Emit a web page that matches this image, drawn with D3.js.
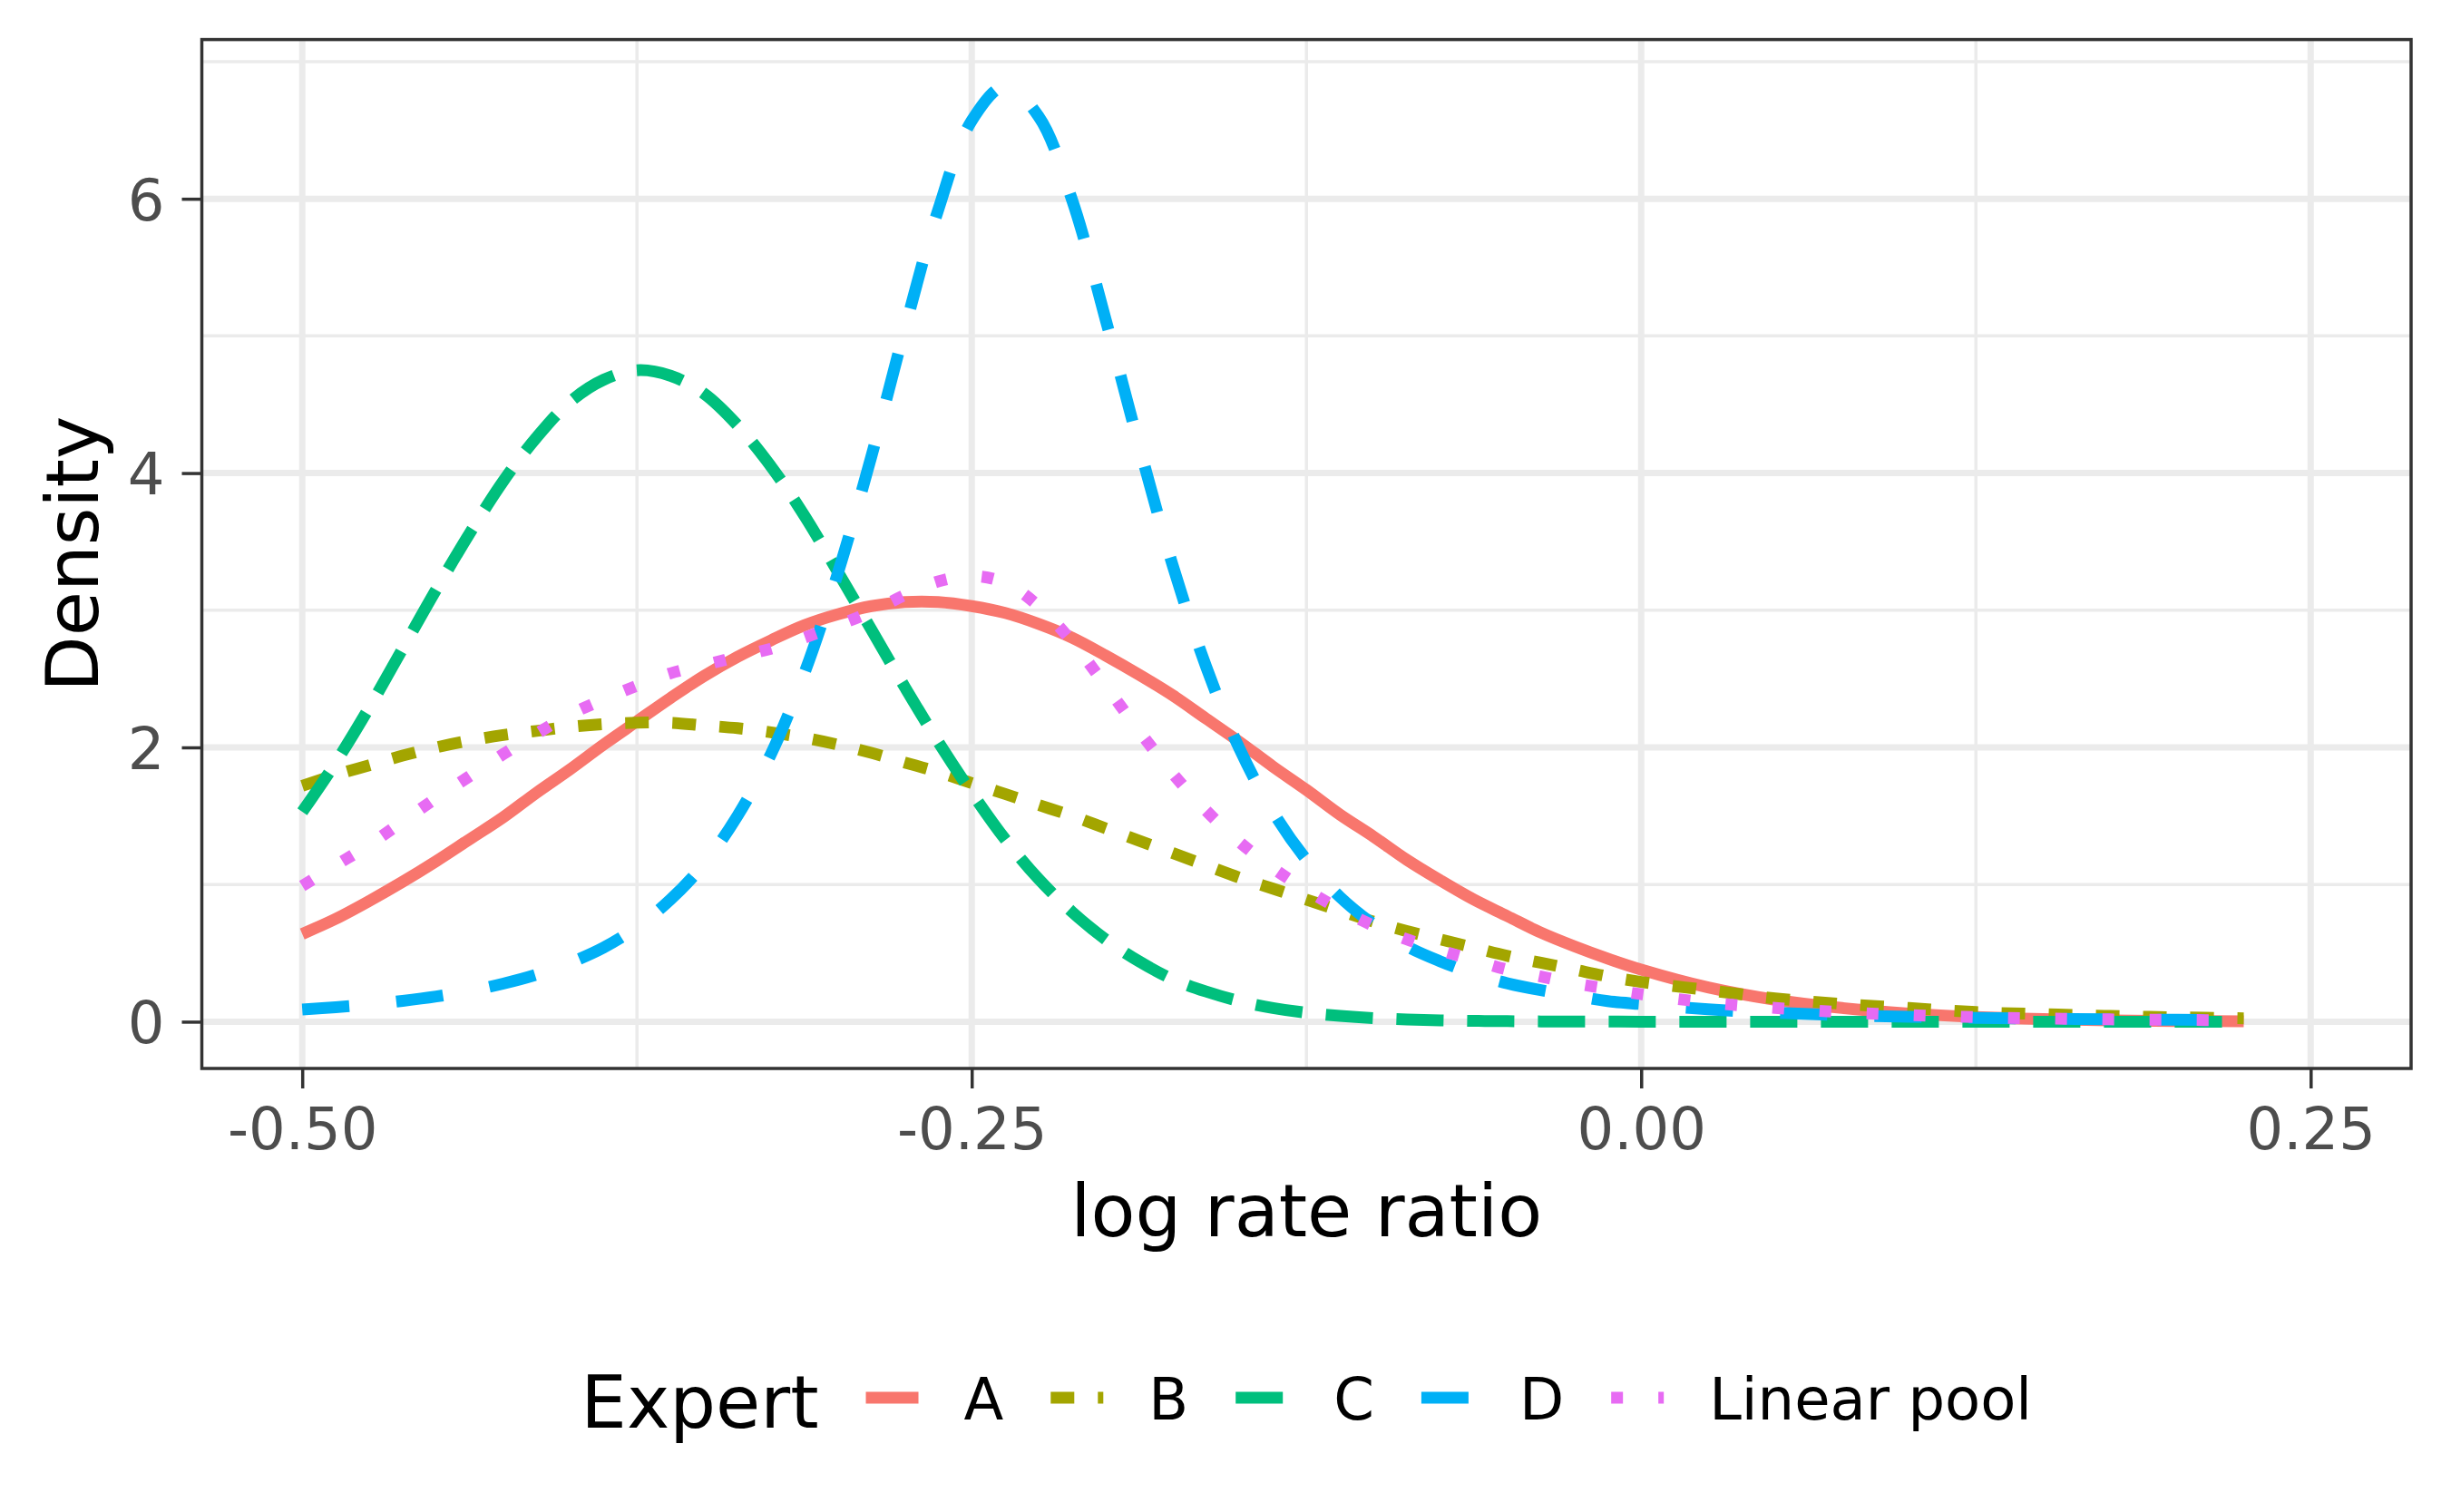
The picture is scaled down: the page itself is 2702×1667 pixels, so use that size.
<!DOCTYPE html>
<html>
<head>
<meta charset="utf-8">
<script src="https://cdn.jsdelivr.net/npm/d3@7"></script>
<style>
  body { margin: 0; background: #ffffff; }
  text { font-family: "DejaVu Sans", sans-serif; }
</style>
</head>
<body>
<svg id="svgchart"></svg>
<script>
'use strict'

// log rate ratio grid
const xValues = [
  -0.5, -0.4875, -0.475, -0.4625, -0.45, -0.4375, -0.425, -0.4125, -0.4, -0.3875,
  -0.375, -0.3625, -0.35, -0.3375, -0.325, -0.3125, -0.3, -0.2875, -0.275, -0.2625,
  -0.25, -0.2375, -0.225, -0.2125, -0.2, -0.1875, -0.175, -0.1625, -0.15, -0.1375,
  -0.125, -0.1125, -0.1, -0.0875, -0.075, -0.0625, -0.05, -0.0375, -0.025, -0.0125,
  0, 0.025, 0.05, 0.075, 0.1, 0.125, 0.15, 0.175, 0.2, 0.225
]

// densities per expert
const expertA = [
  0.64, 0.75, 0.88, 1.02, 1.17, 1.33, 1.49, 1.67, 1.84, 2.02,
  2.19, 2.36, 2.52, 2.66, 2.78, 2.89, 2.97, 3.03, 3.06, 3.06,
  3.03, 2.98, 2.90, 2.80, 2.67, 2.53, 2.38, 2.21, 2.04, 1.86,
  1.69, 1.51, 1.35, 1.18, 1.03, 0.89, 0.77, 0.65, 0.55, 0.46,
  0.38, 0.25, 0.16, 0.10, 0.06, 0.034, 0.019, 0.010, 0.005, 0.003
]
const expertB = [
  1.72, 1.80, 1.87, 1.94, 2.00, 2.05, 2.09, 2.12, 2.15, 2.17,
  2.18, 2.18, 2.16, 2.14, 2.11, 2.07, 2.02, 1.96, 1.89, 1.82,
  1.74, 1.66, 1.58, 1.50, 1.41, 1.32, 1.23, 1.14, 1.05, 0.97,
  0.89, 0.81, 0.73, 0.66, 0.60, 0.54, 0.48, 0.43, 0.38, 0.33,
  0.29, 0.23, 0.17, 0.13, 0.10, 0.07, 0.055, 0.042, 0.032, 0.025
]
const expertC = [
  1.53, 1.89, 2.29, 2.72, 3.15, 3.56, 3.94, 4.26, 4.52, 4.68,
  4.75, 4.71, 4.58, 4.35, 4.05, 3.69, 3.28, 2.86, 2.44, 2.04,
  1.67, 1.33, 1.04, 0.80, 0.60, 0.44, 0.31, 0.22, 0.15, 0.10,
  0.065, 0.042, 0.026, 0.016, 0.010, 0.006, 0.004, 0.002, 0.001, 0.001,
  0, 0, 0, 0, 0, 0, 0, 0, 0, 0
]
const expertD = [
  0.089, 0.106, 0.126, 0.152, 0.184, 0.225, 0.277, 0.343, 0.43, 0.54,
  0.69, 0.89, 1.15, 1.50, 1.95, 2.54, 3.27, 4.12, 5.05, 5.92,
  6.57, 6.82, 6.60, 5.99, 5.12, 4.20, 3.33, 2.59, 1.99, 1.53,
  1.18, 0.91, 0.71, 0.55, 0.44, 0.35, 0.28, 0.23, 0.19, 0.15,
  0.128, 0.090, 0.065, 0.048, 0.036, 0.028, 0.022, 0.017, 0.014, 0.011
]
const linearPool = [
  0.99, 1.14, 1.29, 1.46, 1.63, 1.79, 1.95, 2.10, 2.24, 2.35,
  2.45, 2.54, 2.60, 2.66, 2.72, 2.80, 2.89, 2.99, 3.11, 3.21,
  3.25, 3.20, 3.03, 2.77, 2.45, 2.12, 1.81, 1.54, 1.31, 1.12,
  0.96, 0.82, 0.70, 0.60, 0.52, 0.45, 0.38, 0.33, 0.28, 0.24,
  0.20, 0.14, 0.10, 0.07, 0.049, 0.033, 0.024, 0.017, 0.013, 0.010
]

const seriesNames = ["A", "B", "C", "D", "Linear pool"]
const xTicks = [-0.5, -0.25, 0, 0.25]
const xTickLabels = ["-0.50", "-0.25", "0.00", "0.25"]
const xMinorTicks = [-0.375, -0.125, 0.125]
const yTicks = [0, 2, 4, 6]
const yMinorTicks = [1, 3, 5, 7]

const seriesValues = [expertA, expertB, expertC, expertD, linearPool]
const colors = ["#F8766D", "#A3A500", "#00BF7D", "#00B0F6", "#E76BF3"]
const dashes = ["none", "26,26", "52,26", "52,52", "13,39"] // solid, 22, 42, 44, 13 (ggplot linetypes)

const width = 2702
const height = 1667
const panel = {left: 222.5, right: 2658, top: 43.6, bottom: 1178}
const tickFont = 64
const titleFont = 80
const lineW = 13

const svg = d3.select('#svgchart')
  .attr("width", width)
  .attr("height", height)
svg.append("rect").attr("width", width).attr("height", height).attr("fill", "#ffffff")

// scales (ggplot adds 5% each side)
const x = d3.scaleLinear().domain([-0.5375, 0.2875]).range([panel.left, panel.right])
const y = d3.scaleLinear().domain([-0.341, 7.161]).range([panel.bottom, panel.top])

// grid: minor first, then major
const grid = svg.append("g")
grid.selectAll(".vminor").data(xMinorTicks).enter().append("line")
  .attr("x1", d => x(d)).attr("x2", d => x(d))
  .attr("y1", panel.top).attr("y2", panel.bottom)
  .attr("stroke", "#EBEBEB").attr("stroke-width", 3.5)
grid.selectAll(".hminor").data(yMinorTicks).enter().append("line")
  .attr("y1", d => y(d)).attr("y2", d => y(d))
  .attr("x1", panel.left).attr("x2", panel.right)
  .attr("stroke", "#EBEBEB").attr("stroke-width", 3.5)
grid.selectAll(".vmajor").data(xTicks).enter().append("line")
  .attr("x1", d => x(d)).attr("x2", d => x(d))
  .attr("y1", panel.top).attr("y2", panel.bottom)
  .attr("stroke", "#EBEBEB").attr("stroke-width", 7)
grid.selectAll(".hmajor").data(yTicks).enter().append("line")
  .attr("y1", d => y(d)).attr("y2", d => y(d))
  .attr("x1", panel.left).attr("x2", panel.right)
  .attr("stroke", "#EBEBEB").attr("stroke-width", 7)

// density lines
const line = d3.line()
  .x((d, i) => x(xValues[i]))
  .y(d => y(d))
  .curve(d3.curveCatmullRom.alpha(0.5))

seriesValues.forEach((vals, k) => {
  svg.append("path")
    .datum(vals)
    .attr("d", line)
    .attr("fill", "none")
    .attr("stroke", colors[k])
    .attr("stroke-width", lineW)
    .attr("stroke-dasharray", dashes[k])
    .attr("stroke-linecap", "butt")
    .attr("stroke-linejoin", "round")
})

// panel border
svg.append("rect")
  .attr("x", panel.left).attr("y", panel.top)
  .attr("width", panel.right - panel.left).attr("height", panel.bottom - panel.top)
  .attr("fill", "none").attr("stroke", "#333333").attr("stroke-width", 3.5)

// x axis
const xAxis = svg.append("g")
  .attr("transform", "translate(0," + panel.bottom + ")")
  .call(d3.axisBottom(x).tickValues(xTicks).tickSize(22).tickPadding(17)
    .tickFormat((d, i) => xTickLabels[i]))
xAxis.select(".domain").remove()
xAxis.selectAll(".tick line").attr("stroke", "#333333").attr("stroke-width", 3.5)
xAxis.selectAll(".tick text")
  .attr("fill", "#4D4D4D")
  .style("font-size", tickFont + "px")
  .style("font-family", "DejaVu Sans")
  .attr("y", 89).attr("dy", 0)

// y axis
const yAxis = svg.append("g")
  .attr("transform", "translate(" + panel.left + ",0)")
  .call(d3.axisLeft(y).tickValues(yTicks).tickSize(22).tickPadding(19))
yAxis.select(".domain").remove()
yAxis.selectAll(".tick line").attr("stroke", "#333333").attr("stroke-width", 3.5)
yAxis.selectAll(".tick text")
  .attr("fill", "#4D4D4D")
  .style("font-size", tickFont + "px")
  .style("font-family", "DejaVu Sans")
  .attr("dy", "0.364em")

// axis titles
svg.append("text")
  .text("log rate ratio")
  .attr("x", (panel.left + panel.right) / 2)
  .attr("y", 1363)
  .attr("text-anchor", "middle")
  .style("font-size", titleFont + "px")
  .attr("fill", "#000000")

svg.append("text")
  .text("Density")
  .attr("transform", "translate(108," + ((panel.top + panel.bottom) / 2) + ") rotate(-90)")
  .attr("text-anchor", "middle")
  .style("font-size", titleFont + "px")
  .attr("fill", "#000000")

// legend, laid out from left then centred under the panel
const keyW = 58
const keyY = 1541
const keyGap = 50
const itemGap = 52
const legend = svg.append("g")
const legendTitle = legend.append("text")
  .text("Expert")
  .attr("x", 0).attr("y", 1574)
  .style("font-size", titleFont + "px")
  .attr("fill", "#000000")
let cursor = legendTitle.node().getComputedTextLength() + itemGap
seriesNames.forEach((name, k) => {
  legend.append("line")
    .attr("x1", cursor).attr("x2", cursor + keyW)
    .attr("y1", keyY).attr("y2", keyY)
    .attr("stroke", colors[k])
    .attr("stroke-width", lineW)
    .attr("stroke-dasharray", dashes[k])
  const lbl = legend.append("text")
    .text(name)
    .attr("x", cursor + keyW + keyGap).attr("y", 1565)
    .style("font-size", tickFont + "px")
    .attr("fill", "#000000")
  cursor = cursor + keyW + keyGap + lbl.node().getComputedTextLength() + itemGap
})
const legendWidth = cursor - itemGap
legend.attr("transform", "translate(" + ((panel.left + panel.right) / 2 - legendWidth / 2) + ",0)")
</script>
</body>
</html>
